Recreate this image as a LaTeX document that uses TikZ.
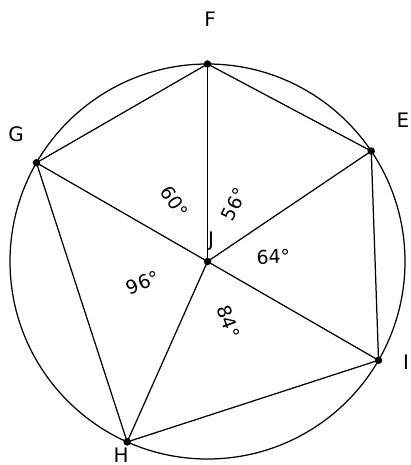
\documentclass[tikz,border=0pt]{standalone}
\usepackage{fontspec}
\setmainfont{DejaVu Sans}
\usetikzlibrary{calc}
\begin{document}
\begin{tikzpicture}[x=1bp,y=1bp,
  edge/.style={line width=1.25bp, black},
  dot/.style={circle, fill=black, inner sep=0pt, minimum size=7.5bp},
  lbl/.style={font=\fontsize{20}{20}\selectfont, inner sep=0pt},
  ang/.style={font=\fontsize{19}{19}\selectfont, inner sep=0pt}]
\useasboundingbox (0,0) rectangle (410,-465);
\coordinate (J) at (207.5,-261.5);
\draw[edge] (J) circle (197.5);
\node[dot] (Jd) at (J) {};
\node[dot] (F) at ($(J)+(90:197.5)$) {};
\node[dot] (E) at ($(J)+(34:197.5)$) {};
\node[dot] (I) at ($(J)+(-30:197.5)$) {};
\node[dot] (H) at ($(J)+(-114:197.5)$) {};
\node[dot] (G) at ($(J)+(150:197.5)$) {};
\draw[edge] (F.center) -- (E.center) -- (I.center) -- (H.center) -- (G.center) -- cycle;
\foreach \p in {F,E,I,H,G} \draw[edge] (Jd.center) -- (\p.center);
% point labels
\node[lbl] (Fl) at (210,-19) {F};
\node[lbl] (El) at (403,-120) {E};
\node[lbl] (Il) at (406,-362) {I};
\node[lbl] (Hl) at (121,-455) {H};
\node[lbl] (Gl) at (16,-134) {G};
\node[lbl] (Jl) at (211,-241) {J};
% angle labels
\node[ang, rotate=-58] (a60) at ($(J)+(119:68)$) {60°};
\node[ang, rotate=64] (a56) at ($(J)+(65:63)$) {56°};
\node[ang, rotate=2] (a64) at ($(J)+(4:66)$) {64°};
\node[ang, rotate=22] (a96) at ($(J)+(198:68)$) {96°};
\node[ang, rotate=-70] (a84) at ($(J)+(-71:64)$) {84°};
\end{tikzpicture}
\end{document}
